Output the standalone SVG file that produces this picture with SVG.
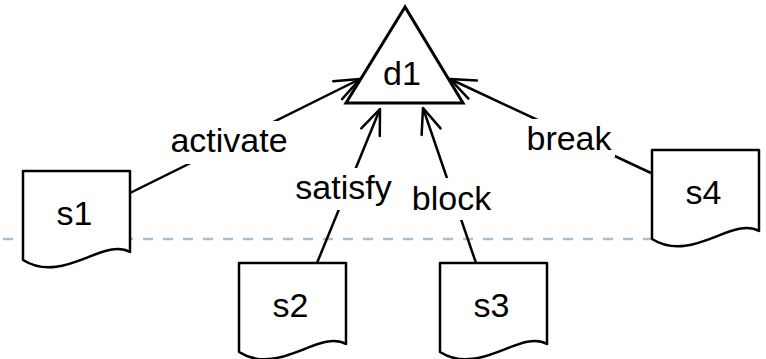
<svg xmlns="http://www.w3.org/2000/svg" width="766" height="359" viewBox="0 0 766 359">
<style>
.lbl{font-family:"Liberation Sans",Arial,Helvetica,sans-serif;font-size:34px;fill:#000;text-anchor:middle}
.doc{fill:#fff;stroke:#000;stroke-width:2.5;stroke-linejoin:round}
.edge{fill:none;stroke:#000;stroke-width:2.5}
.bg{fill:#fff;stroke:none}
</style>
<defs>
<marker id="open" markerUnits="userSpaceOnUse" viewBox="-30 -15 35 30" refX="0" refY="0" markerWidth="35" markerHeight="30" orient="auto" overflow="visible">
<path d="M-25,-10 L0,0 L-25,10" fill="none" stroke="#000" stroke-width="2.5" stroke-linecap="round" stroke-linejoin="round"/>
</marker>
<path id="docshape" d="M0,0 H107 V81 C80,66 40,114 0,89 Z"/>
</defs>
<line x1="3" y1="239" x2="652" y2="239" stroke="#a6bfd5" stroke-width="2.5" stroke-dasharray="10 10"/>
<g id="connectors">
<line class="edge" x1="130" y1="193" x2="360" y2="79" marker-end="url(#open)"/>
<line class="edge" x1="317" y1="263" x2="380" y2="109" marker-end="url(#open)"/>
<line class="edge" x1="476" y1="263" x2="423" y2="108" marker-end="url(#open)"/>
<line class="edge" x1="651" y1="173" x2="450" y2="79" marker-end="url(#open)"/>
<rect class="bg" x="166" y="121" width="126" height="43"/>
<text class="lbl" x="229" y="152">activate</text>
<rect class="bg" x="292" y="168" width="103" height="42"/>
<text class="lbl" x="343.5" y="199">satisfy</text>
<rect class="bg" x="410" y="178" width="84" height="42"/>
<text class="lbl" x="451.5" y="210">block</text>
<rect class="bg" x="524" y="119" width="91" height="38"/>
<text class="lbl" x="569" y="150">break</text>
</g>
<g id="d1">
<polygon points="405,7 346,103 463,103" fill="#fff" stroke="#000" stroke-width="3" stroke-linejoin="miter"/>
<text class="lbl" x="402" y="85">d1</text>
</g>
<g id="s1">
<use href="#docshape" class="doc" x="23" y="171"/>
<text class="lbl" x="74.5" y="225">s1</text>
</g>
<g id="s2">
<use href="#docshape" class="doc" x="239" y="263"/>
<text class="lbl" x="290.5" y="317">s2</text>
</g>
<g id="s3">
<use href="#docshape" class="doc" x="440" y="263"/>
<text class="lbl" x="491.5" y="317">s3</text>
</g>
<g id="s4">
<use href="#docshape" class="doc" x="652" y="150"/>
<text class="lbl" x="703.5" y="204">s4</text>
</g>
</svg>
